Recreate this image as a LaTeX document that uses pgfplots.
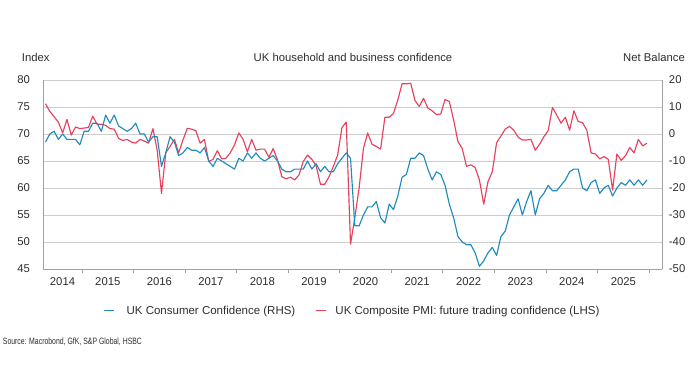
\documentclass[border=0pt]{standalone}
\usepackage{pgfplots}
\pgfplotsset{compat=1.18}
\usepackage{pgfplotstable}
\usepackage{graphicx}
\usepackage{fontspec}
\setmainfont{Liberation Sans}

\definecolor{cblue}{RGB}{33,140,188}
\definecolor{cred}{RGB}{230,66,94}
\definecolor{cgrid}{RGB}{205,205,205}
\definecolor{caxis}{RGB}{160,160,160}
\definecolor{ctext}{RGB}{45,45,45}

% n = months since Jan 2014 (Jan 2014 = 0); v = PMI future trading confidence index (LHS)
\pgfplotstableread{
n v
3 75.6
4 74.2
5 73.2
6 72.2
7 70.2
8 72.7
9 69.8
10 71.3
11 71.0
12 71.1
13 71.2
14 73.3
15 71.8
16 71.8
17 71.6
18 71.0
19 70.9
20 69.2
21 68.8
22 69.0
23 68.5
24 68.3
25 69.0
26 68.7
27 68.3
28 71.0
29 67.0
30 59.0
31 66.5
32 67.7
33 69.0
34 66.5
35 68.9
36 71.05
37 70.9
38 70.6
39 68.3
40 69.0
41 64.9
42 65.3
43 66.9
44 65.4
45 65.5
46 66.5
47 68.0
48 70.2
49 69.0
50 66.7
51 69.0
52 67.0
53 67.2
54 67.2
55 65.7
56 67.3
57 65.2
58 62.1
59 61.7
60 62.0
61 61.5
62 62.4
63 64.9
64 66.1
65 65.3
66 64.1
67 60.7
68 60.7
69 62.1
70 64.0
71 66.1
72 71.2
73 72.2
74 49.6
75 54.5
76 60.0
77 67.3
78 70.2
79 68.1
80 67.7
81 67.2
82 73.1
83 73.1
84 73.8
85 76.3
86 79.3
87 79.3
88 79.4
89 76.2
90 75.1
91 76.6
92 74.8
93 74.3
94 73.6
95 73.7
96 76.4
97 76.0
98 72.6
99 68.6
100 67.3
101 64.0
102 64.3
103 63.8
104 61.5
105 57.0
106 61.2
107 63.0
108 68.4
109 69.6
110 70.9
111 71.4
112 70.7
113 69.4
114 68.9
115 68.9
116 69.0
117 67.0
118 68.1
119 69.5
120 70.6
121 74.9
122 73.5
123 72.0
124 73.1
125 70.7
126 74.3
127 72.3
128 72.1
129 70.7
130 66.5
131 66.3
132 65.4
133 65.8
134 65.3
135 59.6
136 66.3
137 65.1
138 66.0
139 67.5
140 66.5
141 69.0
142 67.8
143 68.3
}\pmitable

% v = GfK consumer confidence net balance (RHS)
\pgfplotstableread{
n v
3 -3
4 0
5 1
6 -2
7 0
8 -2
9 -2
10 -2
11 -4
12 1
13 1
14 4
15 4
16 1
17 7
18 4
19 7
20 3
21 2
22 1
23 2
24 4
25 0
26 0
27 -3
28 -1
29 -1
30 -12
31 -7
32 -1
33 -3
34 -8
35 -7
36 -5
37 -6
38 -6
39 -7
40 -5
41 -10
42 -12
43 -9
44 -10
45 -11
46 -12
47 -13
48 -9
49 -10
50 -7
51 -9
52 -7
53 -9
54 -10
55 -9
56 -8
57 -10
58 -13
59 -14
60 -14
61 -13
62 -13
63 -13
64 -10
65 -13
66 -11
67 -14
68 -12
69 -14
70 -14
71 -11
72 -9
73 -7
74 -9
75 -34
76 -34
77 -30
78 -27
79 -27
80 -25
81 -31
82 -33
83 -26
84 -28
85 -23
86 -16
87 -15
88 -9
89 -9
90 -7
91 -8
92 -13
93 -17
94 -14
95 -15
96 -19
97 -26
98 -31
99 -38
100 -40
101 -41
102 -41
103 -44
104 -49
105 -47
106 -44
107 -42
108 -45
109 -38
110 -36
111 -30
112 -27
113 -24
114 -30
115 -25
116 -21
117 -30
118 -24
119 -22
120 -19
121 -21
122 -21
123 -19
124 -17
125 -14
126 -13
127 -13
128 -20
129 -21
130 -18
131 -17
132 -22
133 -20
134 -19
135 -23
136 -20
137 -18
138 -19
139 -17
140 -19
141 -17
142 -19
143 -17
}\gfktable

\begin{document}
\fontsize{11.3}{13}\selectfont
\begin{tikzpicture}[x=1pt,y=1pt]
\useasboundingbox (0,0) rectangle (696,390);

\pgfplotsset{
  commonx/.style={
    scale only axis, width=619pt, height=189pt,
    at={(43pt,121pt)}, anchor=south west,
    xmin=2.92, xmax=147,
    font=\fontsize{11.3}{13}\selectfont,
    ticklabel style={text=ctext},
  },
}

% Left axis: PMI (LHS)
\begin{axis}[
  commonx,
  ymin=45, ymax=80,
  axis x line*=bottom, axis y line*=left,
  axis line style={draw=caxis, line width=0.9pt, -},
  xtick={12,24,36,48,60,72,84,96,108,120,132,144},
  xticklabels={},
  tick align=outside,
  major tick length=4pt,
  x tick style={draw=caxis, line width=0.9pt},
  extra x ticks={7.46,18,30,42,54,66,78,90,102,114,126,138},
  extra x tick labels={2014,2015,2016,2017,2018,2019,2020,2021,2022,2023,2024,2025},
  extra x tick style={major tick length=0pt, xticklabel style={yshift=-5pt}},
  ytick={45,50,55,60,65,70,75,80},
  yticklabels={45,50,55,60,65,70,75,80},
  y tick style={draw=none},
  yticklabel style={xshift=-5pt},
  ymajorgrids,
  grid style={draw=cgrid, line width=0.9pt},
  legend style={at={(0.5,-0.2206)}, anchor=center, draw=none, fill=none,
    legend columns=2, font=\fontsize{11.5}{13}\selectfont, text=ctext,
    /tikz/every even column/.append style={column sep=18pt}},
  legend image code/.code={\draw[#1] (0pt,0pt) -- (10pt,0pt);},
]
\addlegendimage{cblue, line width=1.1pt}
\addlegendentry{\hspace{10pt}UK Consumer Confidence (RHS)}
\addplot[cred, line width=1.15pt, line join=round] table[x expr=\thisrow{n}+0.5, y=v] {\pmitable};
\addlegendentry{\hspace{7pt}UK Composite PMI: future trading confidence (LHS)}
\end{axis}

% Right axis: GfK (RHS)
\begin{axis}[
  commonx,
  ymin=-50, ymax=20,
  axis x line=none, axis y line*=right,
  axis line style={draw=caxis, line width=0.9pt, -},
  ytick={-50,-40,-30,-20,-10,0,10,20},
  yticklabels={-50,-40,-30,-20,-10,0,10,20},
  y tick style={draw=none},
  yticklabel style={xshift=3pt},
]
\addplot[cblue, line width=1.15pt, line join=round] table[x expr=\thisrow{n}+0.5, y=v] {\gfktable};
\end{axis}

\node[anchor=west, text=ctext, inner sep=0pt] at (21.7,333) {Index};
\node[anchor=east, text=ctext, inner sep=0pt] at (685,333) {Net Balance};
\node[anchor=center, text=ctext, inner sep=0pt] at (353,333) {UK household and business confidence};
\node[anchor=west, text=ctext, inner sep=0pt] at (2.7,48.3) {\fontsize{9.2}{10}\selectfont\scalebox{0.75}[1]{Source: Macrobond, GfK, S\&P Global, HSBC}};
\end{tikzpicture}
\end{document}
